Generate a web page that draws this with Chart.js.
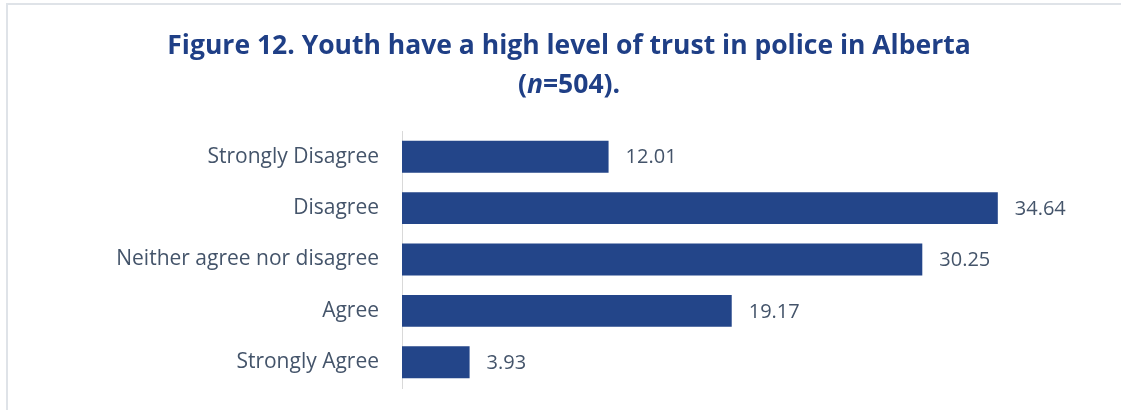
<!DOCTYPE html>
<html>
<head>
<meta charset="utf-8">
<script src="https://cdn.jsdelivr.net/npm/chart.js@4/dist/chart.umd.min.js"></script>
<style>
  body { margin: 0; background: #fff; }
  #wrap { position: relative; width: 1121px; height: 410px; }
  #frame { position: absolute; left: 6px; top: 3px; right: 0; bottom: 0;
           border-top: 2px solid #dfe3e8; border-left: 2px solid #dfe3e8; }
  canvas { position: absolute; left: 0; top: 0; }
</style>
</head>
<body>
<div id="wrap">
  <div id="frame"></div>
  <canvas id="trust-chart" width="1121" height="410"></canvas>
</div>
<script>
// chart data
const categories = ['Strongly Disagree', 'Disagree', 'Neither agree nor disagree', 'Agree', 'Strongly Agree'];
const percentages = [12.01, 34.64, 30.25, 19.17, 3.93];
const titleLine1 = 'Figure 12. Youth have a high level of trust in police in Alberta';
const titleLine2 = ['(', 'n', '=504).'];

const barColor = '#234589';
const titleColor = '#1f3f86';
const textColor = '#44546a';
const fontFamily = '"Open Sans"';

// draws the two-line title, with the italic n
const titlePlugin = {
    id: 'figTitle',
    afterDraw(chart) {
        const ctx = chart.ctx;
        const cx = 569;
        const size = 26.5;
        ctx.save();
        ctx.fillStyle = titleColor;
        ctx.textBaseline = 'middle';
        ctx.textAlign = 'left';
        ctx.font = 'bold ' + size + 'px ' + fontFamily;
        let w = ctx.measureText(titleLine1).width;
        ctx.fillText(titleLine1, cx - w / 2, 46);

        const fonts = ['bold ', 'italic bold ', 'bold '].map(s => s + size + 'px ' + fontFamily);
        let total = 0;
        titleLine2.forEach((t, i) => { ctx.font = fonts[i]; total += ctx.measureText(t).width; });
        let x = cx - total / 2;
        titleLine2.forEach((t, i) => {
            ctx.font = fonts[i];
            ctx.fillText(t, x, 85);
            x += ctx.measureText(t).width;
        });
        ctx.restore();
    }
};

// value labels at the end of each bar
const valueLabels = {
    id: 'valueLabels',
    afterDatasetsDraw(chart) {
        const ctx = chart.ctx;
        const meta = chart.getDatasetMeta(0);
        ctx.save();
        ctx.fillStyle = textColor;
        ctx.font = '20px ' + fontFamily;
        ctx.textBaseline = 'middle';
        meta.data.forEach((bar, i) => {
            ctx.fillText(percentages[i].toFixed(2), bar.x + 17, bar.y + 1);
        });
        ctx.restore();
    }
};

const ctx = document.getElementById('trust-chart').getContext('2d');
new Chart(ctx, {
    type: 'bar',
    data: {
        labels: categories,
        datasets: [{
            data: percentages,
            backgroundColor: barColor,
            borderWidth: 0,
            categoryPercentage: 1,
            barPercentage: 0.62
        }]
    },
    options: {
        indexAxis: 'y',
        responsive: false,
        animation: false,
        layout: { padding: { top: 131, bottom: 22, left: 8, right: 31 } },
        plugins: {
            legend: { display: false },
            tooltip: { enabled: false }
        },
        scales: {
            x: { display: false, min: 0, max: 40 },
            y: {
                grid: { display: false, drawTicks: false },
                border: { display: true, color: '#d9d9d9', width: 1 },
                ticks: {
                    color: textColor,
                    font: { family: fontFamily, size: 21 },
                    padding: 23
                },
                afterFit(scale) {
                    scale.width = 394;
                    scale.paddingTop = 0;
                    scale.paddingBottom = 0;
                }
            }
        }
    },
    plugins: [titlePlugin, valueLabels]
});
</script>
</body>
</html>
